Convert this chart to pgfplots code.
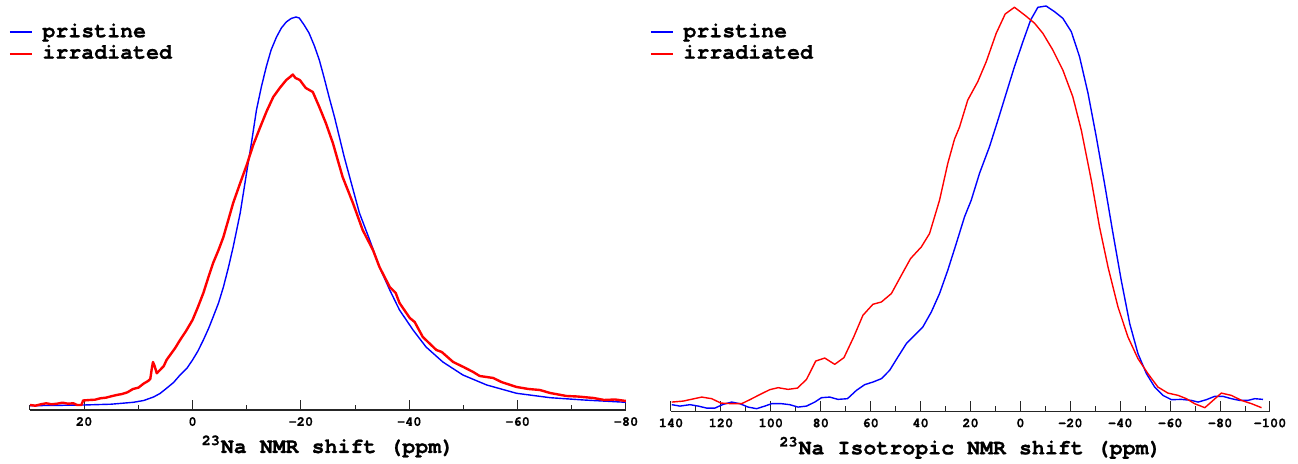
\documentclass[border=0pt]{standalone}
\usepackage{fontspec}
\setmonofont{TeX Gyre Cursor}[BoldFeatures={FakeBold=0.8}]
\usepackage{pgfplots}
\pgfplotsset{compat=1.18}

% shared look of both spectra: only a bottom axis, ticks pointing up
\pgfplotsset{
  nmr/.style={
    scale only axis,
    x dir=reverse,
    axis x line=bottom,
    axis y line=none,
    axis line style={-, line width=0.6pt, black!85},
    ymin=0,
    xtick align=inside,
    major tick length=5pt,
    minor tick length=2.5pt,
    every tick/.style={black!85, line width=0.5pt},
    xticklabel style={font=\ttfamily\bfseries\fontsize{6.8}{8}\selectfont,
      anchor=base, inner sep=0pt, yshift=-7.9pt},
    xlabel style={font=\ttfamily\bfseries\fontsize{10.8}{13}\selectfont,
      at={(axis description cs:0.5,0)}, anchor=base, inner sep=0pt, yshift=-21.5pt},
    legend cell align=left,
    legend style={at={(0,1)}, anchor=north west, xshift=-10.5pt, yshift=-11.15pt,
      draw=none, fill=none, inner sep=0pt, outer sep=0pt,
      column sep=4.5pt, row sep=0.7pt,
      font=\ttfamily\bfseries\fontsize{10.8}{13}\selectfont,
      nodes={inner sep=0pt, text height=7.5pt, text depth=2.5pt}},
    legend image code/.code={\draw[#1, line width=0.9pt] (0pt,0pt) -- (11.3pt,0pt);},
  }
}

\begin{document}
\begin{tikzpicture}
\useasboundingbox (0,0) rectangle (649pt,232pt);

% ---- left: 23Na NMR spectra ----
\begin{axis}[nmr,
  at={(15pt,27pt)}, anchor=south west,
  width=298pt, height=205pt,
  xmin=-80, xmax=30, ymax=410,
  xtick={20,0,-20,-40,-60,-80},
  xticklabels={20,0,-20,-40,-60,-80},
  minor xtick={30,10,-10,-30,-50,-70},
  xlabel={\textsuperscript{23}Na NMR shift (ppm)},
]
\addplot[blue, line width=0.7pt, line join=round] coordinates {
  (30,4.3) (25,4.6) (20,5) (15,5.8) (10.9,7.7) (9,9.5) (7.2,13) (6,16.5)
  (4.8,21.7) (3.5,27.5) (2.3,35) (1,42) (0,50) (-1,59) (-2,70) (-3,82)
  (-3.8,93) (-4.8,107) (-5.7,123) (-6.6,142) (-7.5,163) (-8.8,197) (-10,238)
  (-10.9,268) (-11.8,300) (-12.7,323) (-13.6,343) (-14.5,360) (-15.5,373)
  (-16.4,382) (-17.3,388) (-18.2,391.5) (-19.1,393) (-19.7,392) (-20.6,385)
  (-21.5,377) (-22.5,364) (-23.4,350) (-24.3,332) (-25.2,313) (-26.2,293)
  (-27.1,273) (-28,253) (-29,233) (-30.8,197) (-32.7,170) (-34.5,143)
  (-36.4,120) (-38.2,100) (-40.7,80) (-43.1,63) (-46.2,48) (-49.9,35)
  (-54.3,25) (-59.8,16.7) (-66,12.3) (-72.2,10) (-80,7.7)
};
\addlegendentry{pristine}
\addplot[red, line width=1.2pt, line join=round] coordinates {
  (30,5) (29,4.3) (28,5.7) (27,6.7) (26,5.7) (25,6.3) (24,7.3) (23,6.3)
  (22,6.7) (21.3,5) (20.5,5) (20.2,9.5) (19,10) (18,10.3) (17,11.7) (16,12.3)
  (15,13.7) (14,15) (13,16) (12,17.7) (11,21) (10,22.3) (9,26.5) (8.2,29)
  (7.8,31) (7.5,42) (7.3,48) (7,44) (6.6,36.7) (6,40) (5.3,44) (4.8,50)
  (4,56) (3.2,62) (2.3,70) (1.2,79) (0,90) (-1,103) (-2,117) (-3,134)
  (-3.8,147) (-4.8,160) (-5.7,173) (-6.6,190) (-7.5,207) (-8.8,227) (-10,245)
  (-11.2,265) (-12.5,283) (-13.7,299) (-14.9,313) (-16.1,322) (-17.3,330)
  (-18,333) (-18.5,335.5) (-19,332) (-19.8,330) (-20.9,322) (-22.2,318)
  (-23.4,303) (-24.6,287) (-25.9,267) (-27.7,233) (-29.6,207) (-31.4,180)
  (-33.3,160) (-34.5,143) (-36.4,123) (-37.5,117) (-38.2,107) (-40.1,92)
  (-41,88) (-42.5,73) (-45,60) (-46,58) (-48.1,48) (-50,43) (-51.8,38)
  (-53,34) (-55.5,32) (-57,28) (-59.8,23) (-62,21) (-64.1,20) (-66,17)
  (-69,14) (-71,13.5) (-74,12) (-76,10) (-78,10.5) (-80,9)
};
\addlegendentry{irradiated}
\end{axis}

% ---- right: isotropic projection ----
\begin{axis}[nmr,
  at={(335.5pt,26.3pt)}, anchor=south west,
  width=299.5pt, height=205.7pt,
  xmin=-100, xmax=140, ymax=411,
  xtick={140,120,100,80,60,40,20,0,-20,-40,-60,-80,-100},
  xticklabels={140,120,100,80,60,40,20,0,-20,-40,-60,-80,-100},
  minor xtick={130,110,90,70,50,30,10,-10,-30,-50,-70,-90},
  xlabel={\textsuperscript{23}Na Isotropic NMR shift (ppm)},
]
\addplot[blue, line width=0.7pt, line join=round] coordinates {
  (139.7,6.7) (136.4,5.3) (132.4,6.7) (129.1,5.3) (125.7,3.3) (122.4,3.3)
  (119.1,7) (115.7,9.3) (112.4,7.7) (109.1,4.3) (105.7,2.7) (102.4,5.3)
  (99.7,7.7) (95.7,7.7) (92.4,6.7) (89.1,4.3) (85.7,5.3) (82.4,9.3)
  (79.7,13.7) (76.4,14.3) (73.1,12) (69.3,12.7) (65.7,21) (62.4,26.7)
  (59.1,29.3) (55.7,32.7) (52.4,41) (49.1,54.3) (45.7,67.7) (42.4,76)
  (39.1,84.3) (35.7,99.3) (32.4,117.7) (29.1,141) (25.7,167.7) (22.4,194.3)
  (19.7,211) (16.4,237.7) (12.4,264.3) (9,291) (5.7,317.7) (2.4,344.3)
  (-1,369.3) (-4.1,391) (-7,403.7) (-10.3,405) (-13.7,399.3) (-17,392.7)
  (-20.4,379.3) (-23.7,354.3) (-27.1,317.7) (-30.4,274.3) (-33.7,227.7)
  (-37.1,177.7) (-40.4,131) (-43.8,87.7) (-47.1,57.7) (-50.5,37.7)
  (-53.8,24.3) (-57.1,16) (-60.5,11.7) (-64.5,12) (-68.5,11) (-71.2,9.3)
  (-74.5,11.7) (-77.8,15) (-81.2,15) (-84.5,12.7) (-87.8,11) (-91.2,11)
  (-93.9,12.7) (-97.2,12)
};
\addlegendentry{pristine}
\addplot[red, line width=0.7pt, line join=round] coordinates {
  (139.7,9.3) (135.1,10.3) (127.7,14.3) (123.7,12.7) (120,8.3) (115.7,7.7)
  (111.7,7.7) (108.4,11.7) (103.7,17.7) (100.4,21.7) (97.1,23.7) (93.1,22)
  (89.3,23.3) (85.7,32) (82,50.3) (78.4,53.3) (74.4,47) (70.7,53.7)
  (66.8,74.3) (63.1,96) (59.1,107) (55.7,109.3) (51.7,117.7) (47.7,136)
  (44,152.7) (39.7,164.3) (36.4,177.7) (32.4,211) (29.1,247.7) (26.4,272)
  (24.4,284) (21.1,311) (17.1,329.3) (13.7,349.3) (9.7,377.7) (6.1,397)
  (2.4,403.7) (-1.7,396) (-5.7,387.7) (-9,377.7) (-13,361) (-17,341)
  (-21,314.3) (-24.4,281) (-28.4,231) (-31.7,184.3) (-35.1,144.3)
  (-39.1,104.3) (-43.1,74.3) (-47.1,52.7) (-51.1,37.7) (-55.1,24.3)
  (-59.1,18.3) (-63.2,16) (-66.5,12.7) (-69.8,7.7) (-73.9,3.7) (-77.2,11)
  (-80.5,18.3) (-84.5,16) (-88.6,11) (-92.6,7.7) (-96.6,3.7)
};
\addlegendentry{irradiated}
\end{axis}
\end{tikzpicture}
\end{document}
